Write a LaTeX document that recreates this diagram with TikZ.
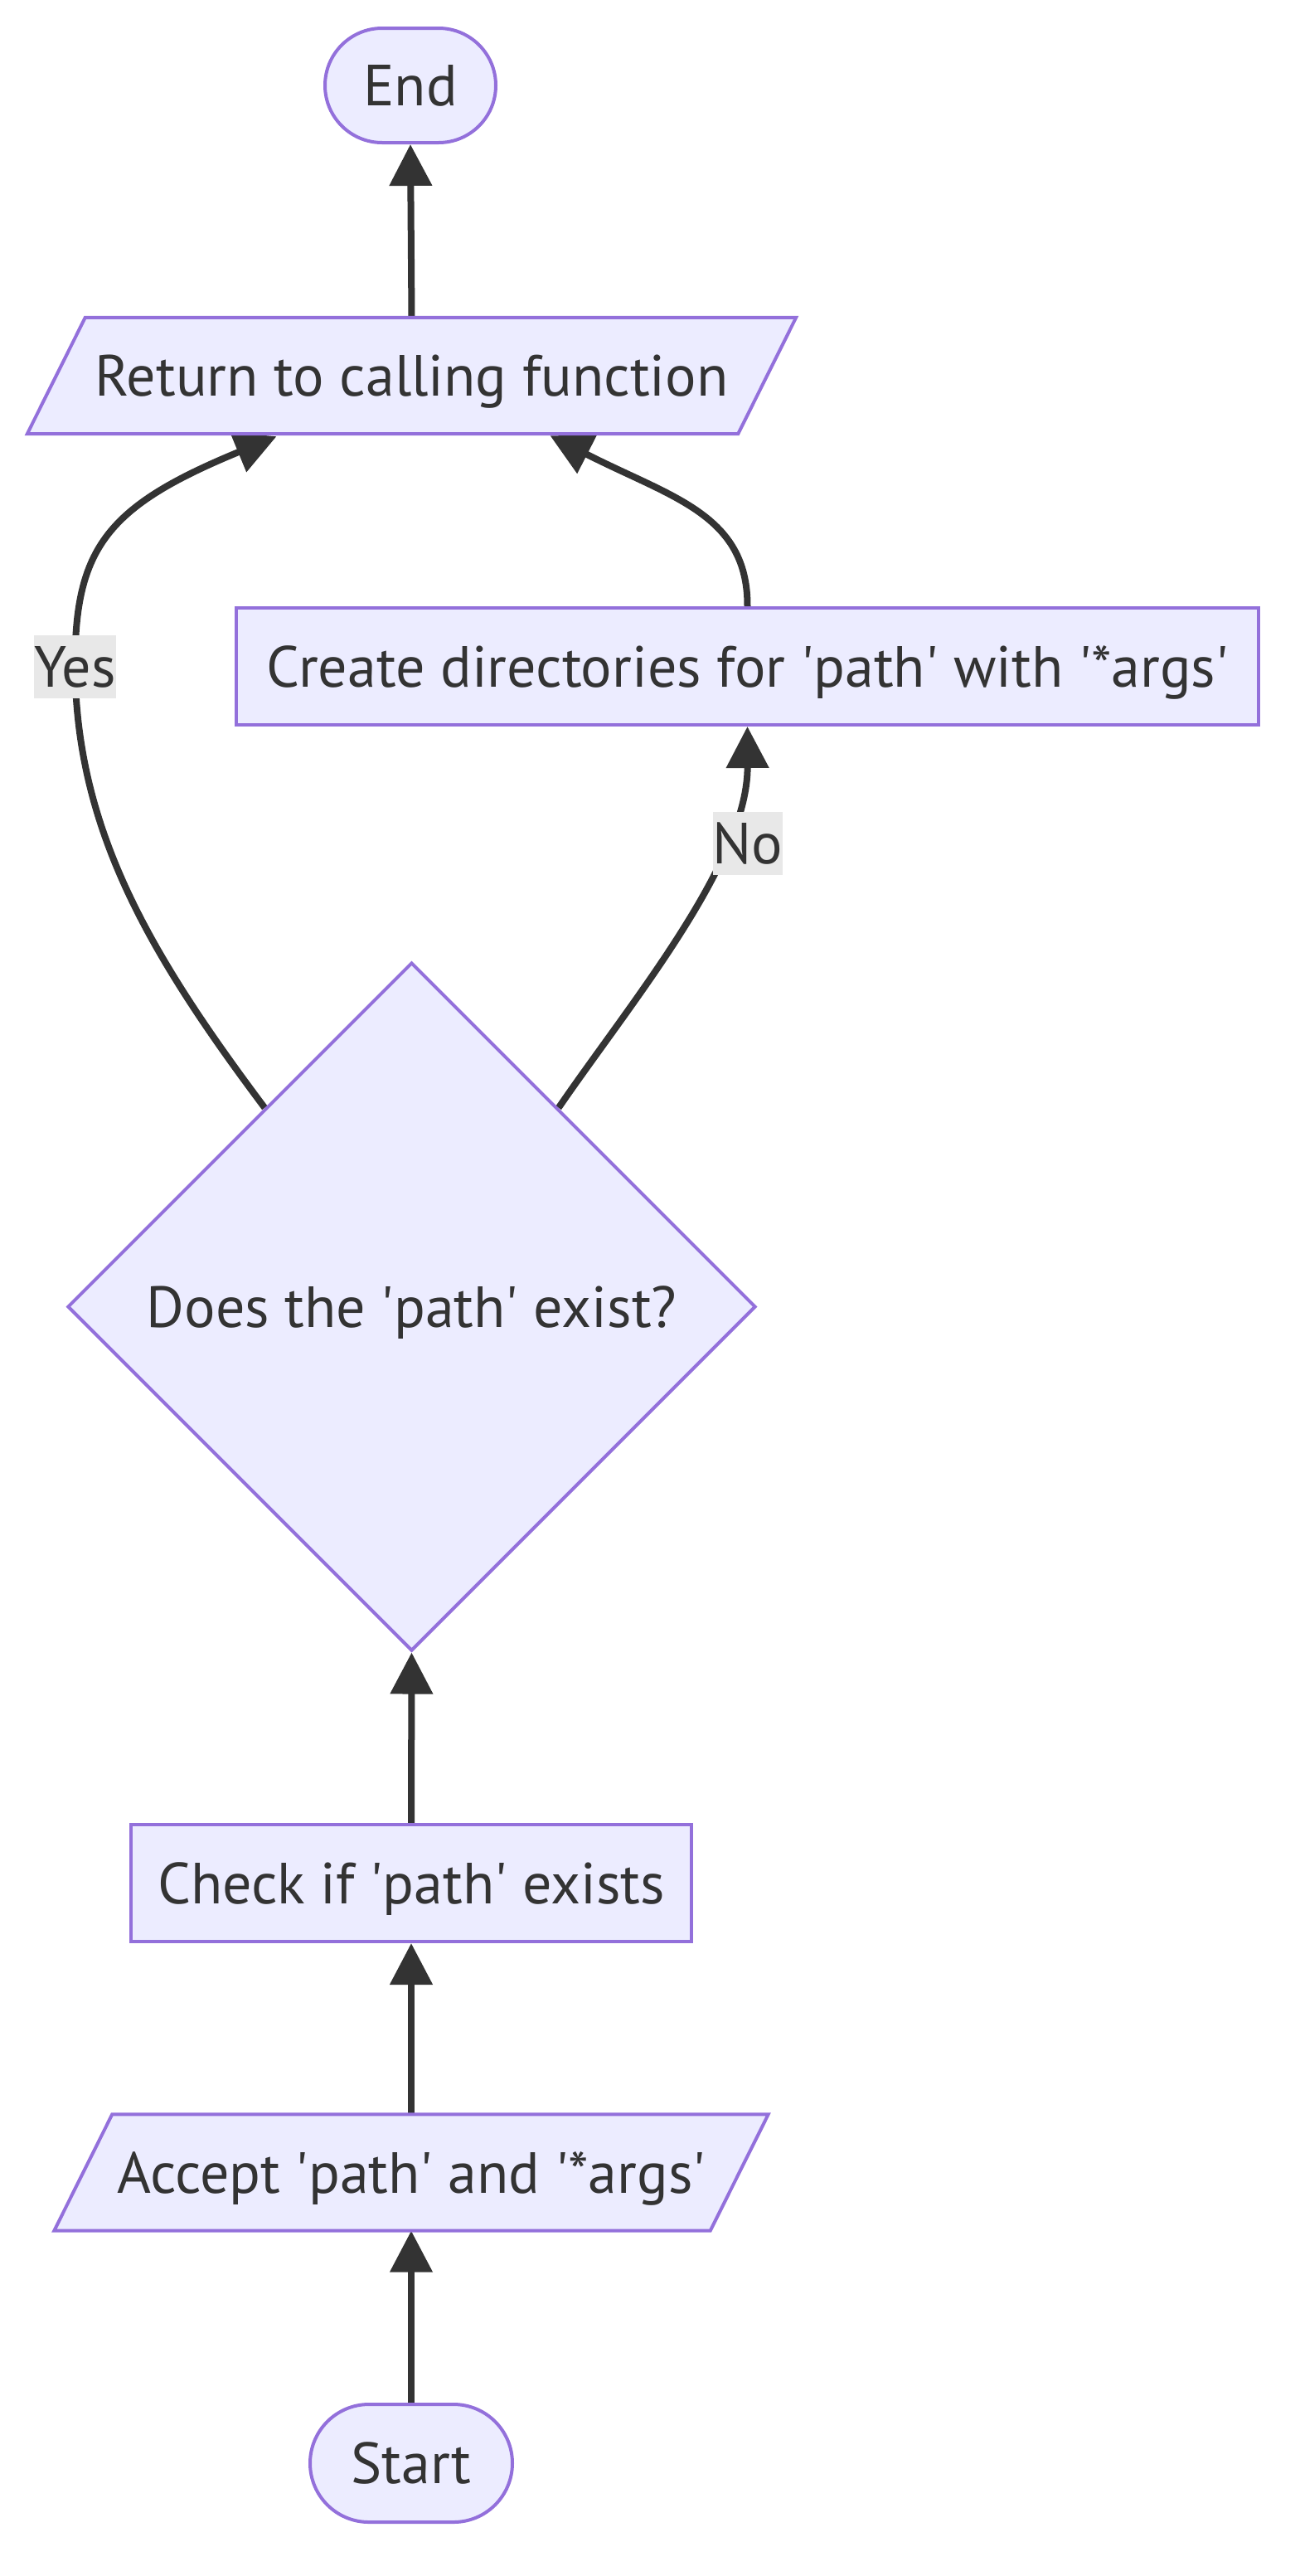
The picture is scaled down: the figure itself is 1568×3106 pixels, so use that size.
\documentclass[tikz,border=0pt]{standalone}
\usepackage{fontspec}
\setmainfont{PT Sans}
\usetikzlibrary{arrows.meta,shapes.geometric,shapes.misc,calc}
\definecolor{nodefill}{HTML}{ECECFF}
\definecolor{nodeline}{HTML}{9370DB}
\definecolor{edgecol}{HTML}{333333}
\definecolor{lblbg}{HTML}{E8E8E8}
\newcommand{\q}{\textquotesingle}
\pgfdeclarelayer{bglayer}
\pgfdeclarelayer{edgelayer}
\pgfdeclarelayer{shapelayer}
\pgfsetlayers{bglayer,edgelayer,shapelayer,main}
\tikzset{
  base/.style={text=edgecol, font=\fontsize{70}{70}\selectfont, inner sep=0pt, text height=49pt, text depth=0pt},
  term/.style={base, rounded rectangle, draw=nodeline, fill=nodefill, line width=4pt},
  proc/.style={base, rectangle, draw=nodeline, fill=nodefill, line width=4pt, minimum height=141pt},
  io/.style={base, rectangle, minimum height=140pt},
  iofill/.style={draw=nodeline, fill=nodefill, line width=4pt},
  dec/.style={base, diamond, aspect=1, draw=nodeline, fill=nodefill, line width=4pt, minimum width=830pt, minimum height=830pt},
  lbl/.style={base, fill=lblbg, minimum height=76pt},
  edge/.style={draw=edgecol, line width=8pt, -{Triangle[length=50pt,width=50pt]}}
}
\begin{document}
\begin{tikzpicture}[x=1pt,y=-1pt]
\useasboundingbox (0,0) rectangle (1568,3106);
\begin{pgfonlayer}{bglayer}
\fill[white] (0,0) rectangle (1568,3106);
\end{pgfonlayer}
% nodes
\node[term, minimum width=206pt, minimum height=138pt] (end) at (495,103) {End};
\node[io, minimum width=857pt] (ret) at (496.5,453) {Return to calling function};
\node[proc, minimum width=1233pt] (create) at (901.5,803.5) {Create directories for \q path\q{} with \q*args\q};
\node[dec] (dec) at (496.5,1575.5) {Does the \q path\q{} exist?};
\node[proc, minimum width=676pt] (check) at (496,2270.5) {Check if \q path\q{} exists};
\node[io, minimum width=791pt] (acc) at (496,2619.5) {Accept \q path\q{} and \q*args\q};
\node[term, minimum width=244pt, minimum height=142pt] (start) at (496,2970) {Start};
% edge labels
\node[lbl, minimum width=93pt] (yes) at (90.5,803.5) {Yes};
\node[lbl, minimum width=78pt] (no) at (902,1017) {No};
% parallelogram outlines
\begin{pgfonlayer}{shapelayer}
\path[iofill] ([xshift=35pt]ret.north west) -- ([xshift=35pt]ret.north east) -- ([xshift=-35pt]ret.south east) -- ([xshift=-35pt]ret.south west) -- cycle;
\path[iofill] ([xshift=35pt]acc.north west) -- ([xshift=35pt]acc.north east) -- ([xshift=-35pt]acc.south east) -- ([xshift=-35pt]acc.south west) -- cycle;
\end{pgfonlayer}
% edges
\begin{pgfonlayer}{edgelayer}
\coordinate (dyes) at ($(dec.north)!0.425!(dec.west)$);
\coordinate (dno) at ($(dec.north)!0.425!(dec.east)$);
\draw[edge] (start.north) -- (acc.south);
\draw[edge] (acc.north) -- (check.south);
\draw[edge] (check.north) -- (dec.south);
\draw[edge] (ret.north) -- (end.south);
\draw[edge] (dyes) .. controls (180,1150) and (92,1000) .. (yes.center)
  .. controls (90,660) and (130,610) .. ([xshift=-163pt,yshift=-3pt]ret.south);
\draw[edge] (dno) .. controls (760,1210) and (902,1040) .. (create.south);
\draw[edge] (create.north) .. controls (902,620) and (810,600) .. ([xshift=167pt,yshift=-2pt]ret.south);
\end{pgfonlayer}
\end{tikzpicture}
\end{document}
